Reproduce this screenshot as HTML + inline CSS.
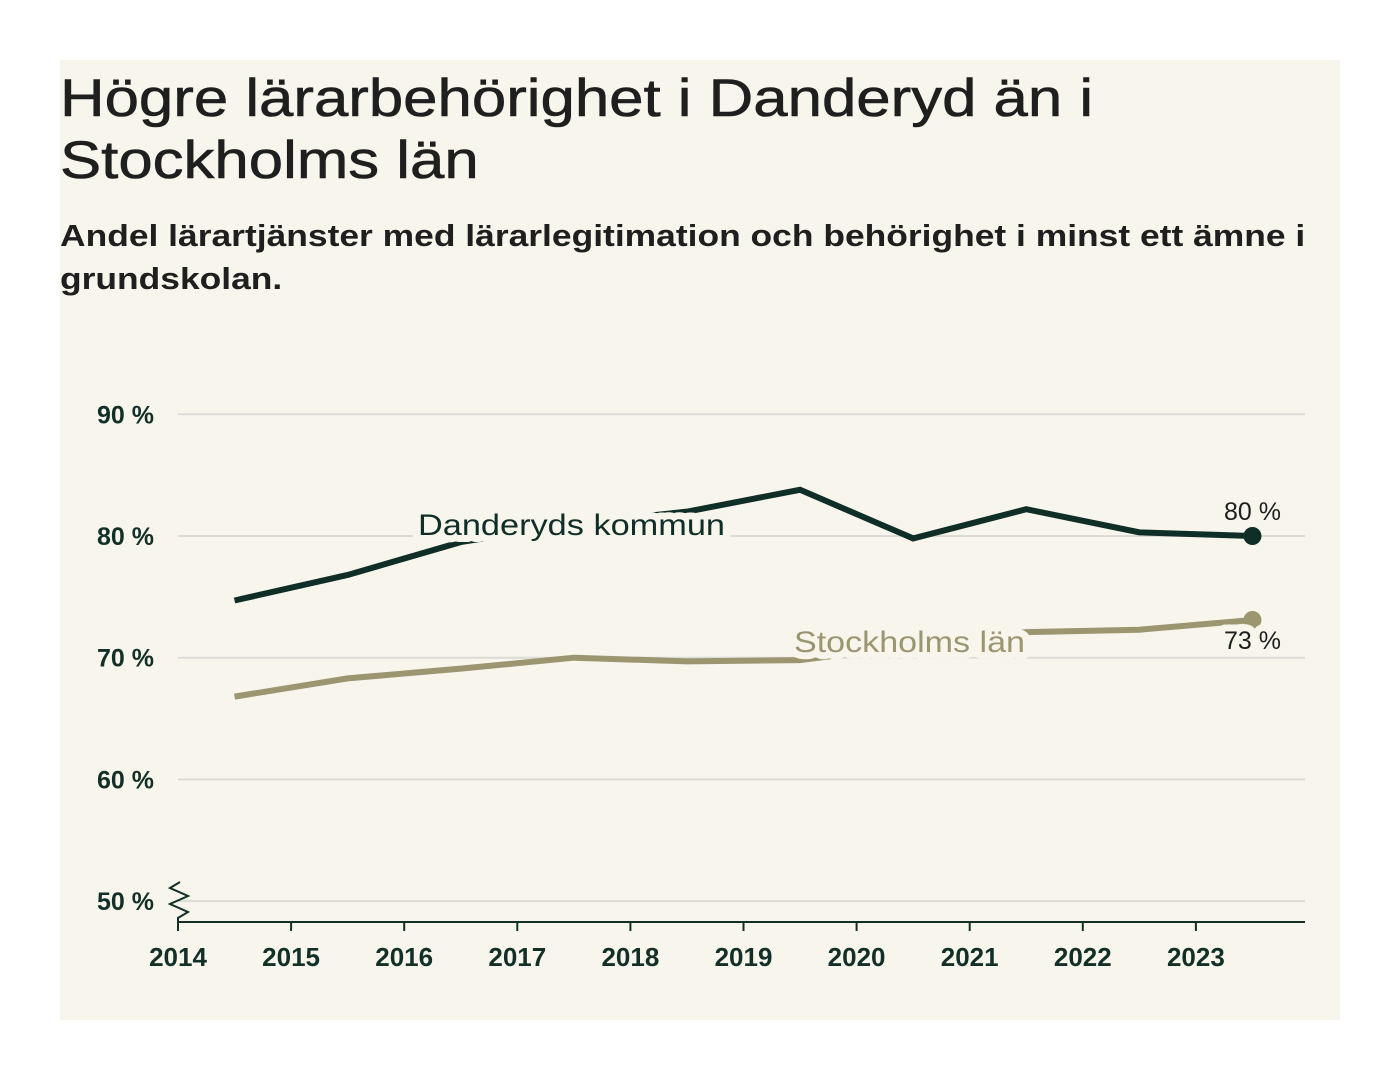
<!DOCTYPE html>
<html><head><meta charset="utf-8"><style>
body{margin:0;width:1400px;height:1080px;background:#fff;font-family:"Liberation Sans",sans-serif;}
#card{position:absolute;left:60px;top:60px;width:1280px;height:960px;background:#f7f5ec;}
h1{position:absolute;left:0;top:8px;margin:0;font-size:53px;line-height:62px;font-weight:normal;color:#1f1f1f;white-space:nowrap;transform:scaleX(1.165);transform-origin:left top;-webkit-text-stroke:0.6px #1f1f1f;}
h2{position:absolute;left:0;top:214px;margin:0;font-size:31px;line-height:43px;font-weight:bold;color:#1f1f1f;white-space:nowrap;transform:scaleX(1.142);transform-origin:left top;}
svg{position:absolute;left:0;top:0;}
</style></head><body>
<div id="card">
<h1>Högre lärarbehörighet i Danderyd än i<br>Stockholms län</h1>
</div>
<h2 style="position:absolute;left:60px;">Andel lärartjänster med lärarlegitimation och behörighet i minst ett ämne i<br>grundskolan.</h2>
<svg id="chart" width="1400" height="1080"></svg>
<script>
const years=[2014.5,2015.5,2016.5,2017.5,2018.5,2019.5,2020.5,2021.5,2022.5,2023.5];
const danderyd=[74.7,76.8,79.5,81.0,82.0,83.8,79.8,82.2,80.3,80.0];
const stockholm=[66.8,68.3,69.1,70.0,69.7,69.8,71.0,72.1,72.3,73.1];
const yTicks=[50,60,70,80,90];
const xTicks=[2014,2015,2016,2017,2018,2019,2020,2021,2022,2023];
const NS="http://www.w3.org/2000/svg";
const svg=document.getElementById('chart');
const X=v=>178+(v-2014)*113.1;
const Y=v=>536-(v-80)*12.17;
function el(t,a,p){const e=document.createElementNS(NS,t);for(const k in a)e.setAttribute(k,a[k]);(p||svg).appendChild(e);return e;}
yTicks.forEach(t=>{
 const g=el('line',{x1:178,x2:1305,y1:Y(t),y2:Y(t),stroke:'#dcdcd6','stroke-width':2});
 
 
 const tx=el('text',{x:154,y:Y(t)+9,'text-anchor':'end','font-size':25,'font-weight':'bold',fill:'#123028'});
 tx.textContent=t+' %';
 
 
});
const ax=el('line',{x1:178,x2:1305,y1:922,y2:922,stroke:'#123028','stroke-width':2});


const zz=el('polyline',{points:'180,882 170,888 188,896 170,904 188,912 178,918 178,922',fill:'none',stroke:'#123028','stroke-width':2});


xTicks.forEach(t=>{
 const l=el('line',{x1:X(t),x2:X(t),y1:922,y2:931,stroke:'#123028','stroke-width':2});
 
 
 const tx=el('text',{x:X(t),y:966,'text-anchor':'middle','font-size':26,'font-weight':'bold',fill:'#123028'});
 tx.textContent=t;
 
 
});
function series(vals,color,name){
 const p=el('polyline',{points:vals.map((v,i)=>X(years[i])+','+Y(v)).join(' '),fill:'none',stroke:color,'stroke-width':6,'stroke-linejoin':'miter'});
 
 
 const n=vals.length-1;
 const c=el('circle',{cx:X(years[n]),cy:Y(vals[n]),r:9,fill:color});
 
 
}
series(danderyd,'#0f2e28','danderyd');
series(stockholm,'#9b9670','stockholm');
function label(x,y,txt,color,name,size,anchor,len){
 const a={x:x,y:y,'font-size':size,fill:color,'text-anchor':anchor||'start',stroke:'#f7f5ec','stroke-width':14,'paint-order':'stroke','stroke-linejoin':'round'};
 if(len){a.textLength=len;a.lengthAdjust='spacingAndGlyphs';}
 const t=el('text',a);
 t.textContent=txt;
 
 
}
label(418,535,'Danderyds kommun','#0f2e28','danderyd-label',30,'start',307);
label(794,652,'Stockholms län','#9b9670','stockholm-label',30,'start',231);
const n=danderyd.length-1;
label(X(years[n]),Y(danderyd[n])-16,Math.round(danderyd[n])+' %','#1f1f1f','danderyd-value',25,'middle');
label(X(years[n]),Y(stockholm[n])+29,Math.round(stockholm[n])+' %','#1f1f1f','stockholm-value',25,'middle');
</script>
</body></html>
